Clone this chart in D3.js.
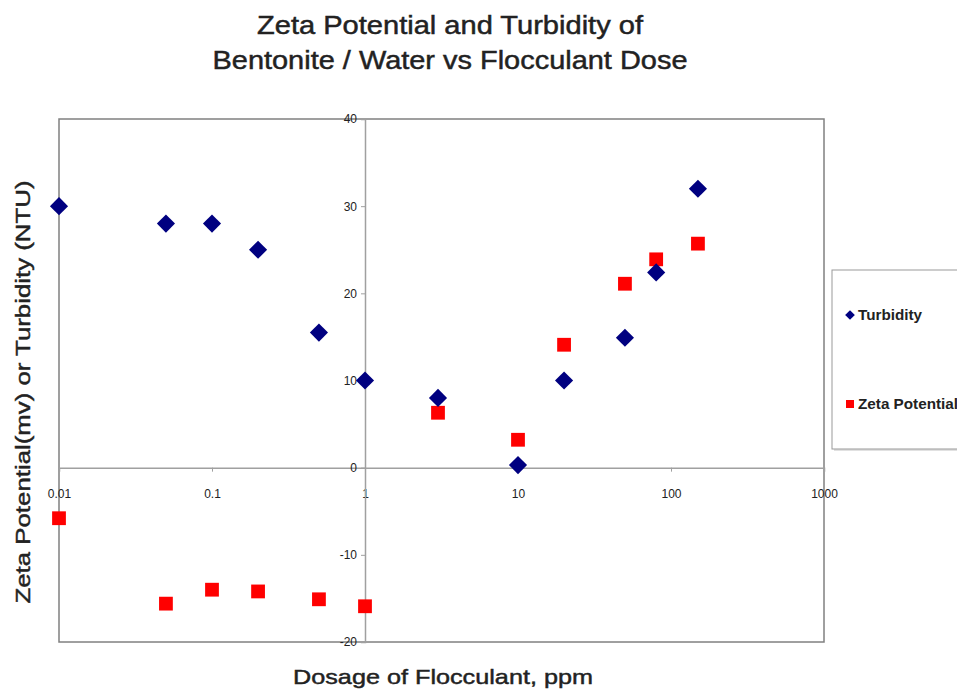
<!DOCTYPE html>
<html>
<head>
<meta charset="utf-8">
<script src="https://cdn.jsdelivr.net/npm/d3@7/dist/d3.min.js"></script>
<style>
  body { margin: 0; background: #fff; }
  text { font-family: "Liberation Sans", Arial, Helvetica, sans-serif; fill: #222; }
</style>
</head>
<body>
<div id="main"></div>
<script>
const doses = [0.01, 0.05, 0.1, 0.2, 0.5, 1, 3, 10, 20, 50, 80, 150];
const turbidity = [30, 28, 28, 25, 15.5, 10, 8, 0.3, 10, 14.9, 22.4, 32];
const zetaPotential = [-5.8, -15.6, -14, -14.2, -15.1, -15.9, 6.3, 3.2, 14.1, 21.1, 23.9, 25.7];
const xTicks = [0.01, 0.1, 1, 10, 100, 1000];
const yTicks = [-20, -10, 0, 10, 20, 30, 40];

const width = 957, height = 691;
const plot = { left: 59, right: 824, top: 119, bottom: 642 };

const svg = d3.select('#main').append('svg')
    .attr('width', width)
    .attr('height', height);

const x = d3.scaleLog().domain([0.01, 1000]).range([plot.left, plot.right]);
const y = d3.scaleLinear().domain([-20, 40]).range([plot.bottom, plot.top]);

// titles (a thin stroke gives the medium weight of the original)
function heading(txt, px, len) {
    return txt.style('font-size', px + 'px')
        .attr('textLength', len)
        .attr('lengthAdjust', 'spacingAndGlyphs')
        .attr('stroke', '#222')
        .attr('stroke-width', 0.45);
}
heading(svg.append('text')
    .attr('x', 450).attr('y', 34)
    .attr('text-anchor', 'middle')
    .text('Zeta Potential and Turbidity of'), 25, 386);
heading(svg.append('text')
    .attr('x', 450).attr('y', 69)
    .attr('text-anchor', 'middle')
    .text('Bentonite / Water vs Flocculant Dose'), 25, 475);

heading(svg.append('text')
    .attr('x', 443).attr('y', 684)
    .attr('text-anchor', 'middle')
    .text('Dosage of Flocculant, ppm'), 21, 300);

heading(svg.append('text')
    .attr('transform', 'translate(30,392) rotate(-90)')
    .attr('text-anchor', 'middle')
    .text('Zeta Potential(mv) or Turbidity (NTU)'), 21, 423);

// plot frame
svg.append('rect')
    .attr('x', plot.left).attr('y', plot.top)
    .attr('width', plot.right - plot.left)
    .attr('height', plot.bottom - plot.top)
    .attr('fill', 'none')
    .attr('stroke', '#808080')
    .attr('stroke-width', 1.5);

// axes crossing at x=1, y=0
const xAxis = d3.axisBottom(x)
    .tickValues(xTicks)
    .tickFormat(d => String(d))
    .tickSize(4)
    .tickPadding(18);
const gx = svg.append('g')
    .attr('transform', `translate(0,${y(0)})`)
    .call(xAxis);

const yAxis = d3.axisLeft(y)
    .tickValues(yTicks)
    .tickFormat(d => String(d))
    .tickSize(4)
    .tickPadding(4);
const gy = svg.append('g')
    .attr('transform', `translate(${x(1)},0)`)
    .call(yAxis);

[gx, gy].forEach(g => {
    g.select('.domain').attr('stroke', '#a0a0a0').attr('stroke-width', 1.5);
    g.selectAll('.tick line').attr('stroke', '#a0a0a0');
    g.selectAll('.tick text')
        .style('font-size', '12px')
        .style('font-family', '"Liberation Sans", Arial, sans-serif')
        .attr('fill', '#333');
});

// series
const diamond = d3.symbol().type(d3.symbolDiamond2).size(210);
const square = d3.symbol().type(d3.symbolSquare).size(190);

svg.append('g').selectAll('path')
    .data(doses.map((d, i) => [d, zetaPotential[i]]))
    .enter().append('path')
    .attr('d', square)
    .attr('transform', d => `translate(${x(d[0])},${y(d[1])})`)
    .attr('fill', '#ff0000');

svg.append('g').selectAll('path')
    .data(doses.map((d, i) => [d, turbidity[i]]))
    .enter().append('path')
    .attr('d', diamond)
    .attr('transform', d => `translate(${x(d[0])},${y(d[1])})`)
    .attr('fill', '#000080');

// legend
const legend = svg.append('g').attr('id', 'legend');
legend.append('rect')
    .attr('x', 834).attr('y', 272)
    .attr('width', 140).attr('height', 179)
    .attr('fill', '#aaa').attr('opacity', 0.35);
legend.append('rect')
    .attr('x', 832).attr('y', 270)
    .attr('width', 140).attr('height', 179)
    .attr('fill', '#fff')
    .attr('stroke', '#999').attr('stroke-width', 1);

const items = [
    { name: 'Turbidity', len: 64, shape: d3.symbol().type(d3.symbolDiamond2).size(60), color: '#000080', y: 315 },
    { name: 'Zeta Potential', len: 100, shape: d3.symbol().type(d3.symbolSquare).size(64), color: '#ff0000', y: 404 }
];
items.forEach(it => {
    legend.append('path')
        .attr('d', it.shape)
        .attr('transform', `translate(850,${it.y})`)
        .attr('fill', it.color);
    legend.append('text')
        .attr('x', 858).attr('y', it.y + 5)
        .style('font-size', '14px')
        .style('font-weight', 'bold')
        .attr('textLength', it.len)
        .attr('lengthAdjust', 'spacingAndGlyphs')
        .attr('fill', '#222')
        .text(it.name);
});
</script>
</body>
</html>
